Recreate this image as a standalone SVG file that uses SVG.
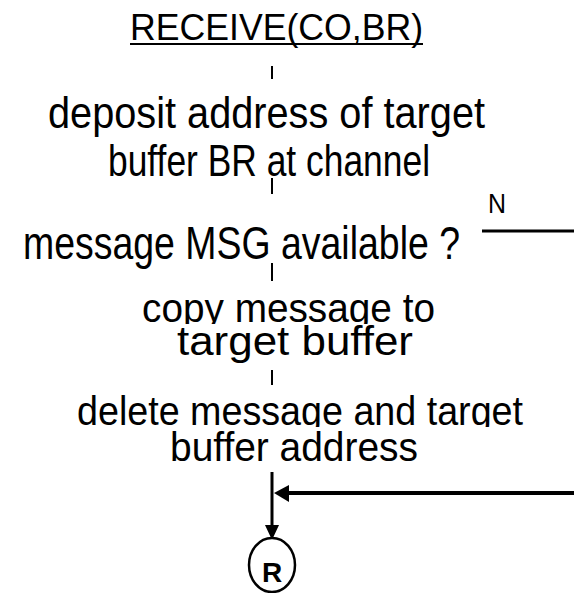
<svg xmlns="http://www.w3.org/2000/svg" width="574" height="593" viewBox="0 0 574 593">
<defs>
<style>
.t{font-family:"Liberation Sans",Arial,sans-serif;fill:#000;text-anchor:start}
.tick{stroke:#000;stroke-width:2;fill:none}
.thick{stroke:#000;stroke-width:3;fill:none}
</style>
<clipPath id="c1"><rect x="0" y="280" width="574" height="44"/></clipPath>
<clipPath id="c2"><rect x="0" y="380" width="574" height="47"/></clipPath>
</defs>
<rect width="574" height="593" fill="#fff"/>
<g id="connectors">
<line class="tick" x1="272" y1="66" x2="272" y2="79"/>
<line class="tick" x1="272" y1="178" x2="272" y2="194"/>
<line class="tick" x1="272" y1="263" x2="272" y2="281"/>
<line class="tick" x1="272" y1="370" x2="272" y2="385"/>
<line class="thick" x1="482" y1="231" x2="574" y2="231"/>
<line class="thick" x1="272" y1="472" x2="272" y2="527"/>
<polygon points="265,525 279,525 272,540" fill="#000"/>
<line stroke="#000" stroke-width="4" x1="288" y1="493" x2="574" y2="493"/>
<polygon points="274,493 289,485 289,502" fill="#000"/>
</g>
<g id="start">
<text class="t" x="130" y="40" font-size="37" textLength="293" lengthAdjust="spacingAndGlyphs">RECEIVE(CO,BR)</text>
<line x1="130" y1="44" x2="423" y2="44" stroke="#000" stroke-width="2"/>
</g>
<g id="deposit">
<text class="t" x="48" y="128" font-size="45" textLength="437" lengthAdjust="spacingAndGlyphs">deposit address of target</text>
<text class="t" x="108" y="176" font-size="45" textLength="322" lengthAdjust="spacingAndGlyphs">buffer BR at channel</text>
</g>
<g id="decision">
<text class="t" x="23" y="259" font-size="46" textLength="437" lengthAdjust="spacingAndGlyphs">message MSG available ?</text>
<text class="t" x="488" y="213" font-size="27" textLength="18" lengthAdjust="spacingAndGlyphs">N</text>
</g>
<g id="copy">
<text class="t" x="142" y="322" font-size="41" textLength="293" lengthAdjust="spacingAndGlyphs" clip-path="url(#c1)">copy message to</text>
<text class="t" x="177" y="355" font-size="41" textLength="236" lengthAdjust="spacingAndGlyphs">target buffer</text>
</g>
<g id="delete">
<text class="t" x="77" y="425" font-size="41" textLength="446" lengthAdjust="spacingAndGlyphs" clip-path="url(#c2)">delete message and target</text>
<text class="t" x="170" y="461" font-size="41" textLength="248" lengthAdjust="spacingAndGlyphs">buffer address</text>
</g>
<g id="return">
<ellipse cx="272" cy="565" rx="23" ry="27" fill="#fff" stroke="#000" stroke-width="2.5"/>
<text class="t" x="272" y="582" font-size="28" font-weight="bold" style="text-anchor:middle">R</text>
</g>
</svg>
